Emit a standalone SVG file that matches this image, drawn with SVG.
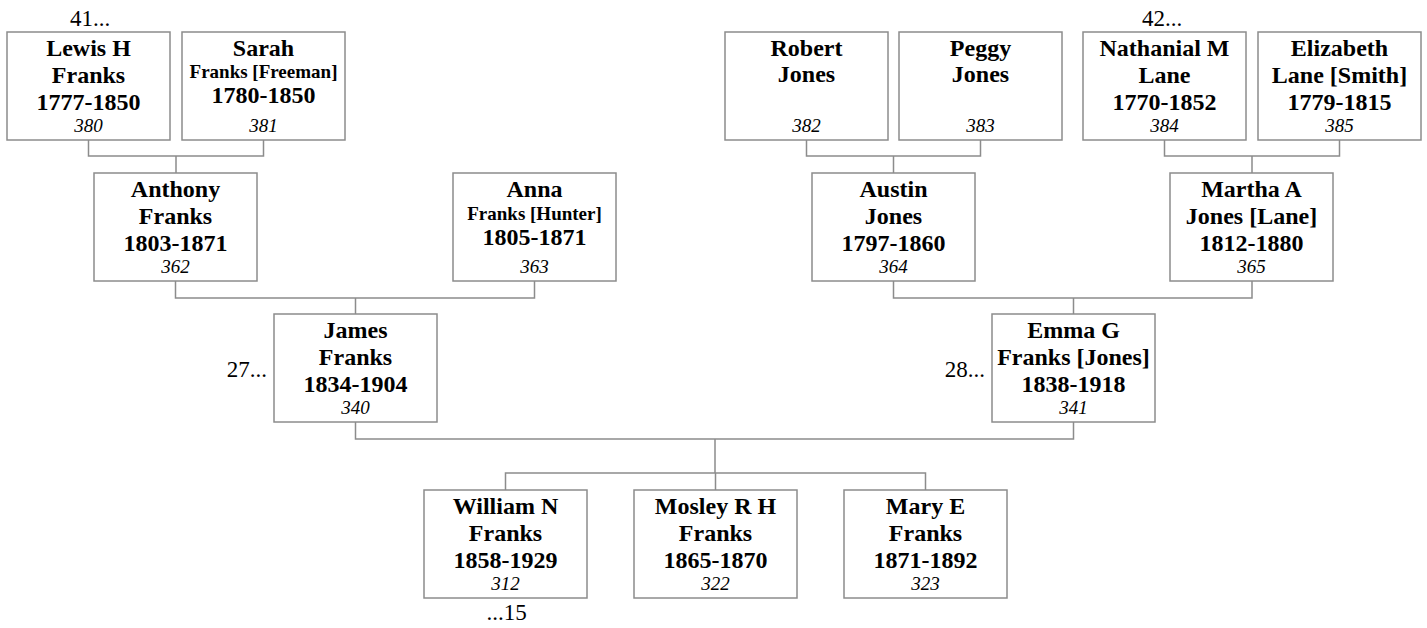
<svg xmlns="http://www.w3.org/2000/svg" width="1427" height="628" viewBox="0 0 1427 628">
<style>
.box{fill:#fff;stroke:#8c8c8c;stroke-width:1.5}
.con{fill:none;stroke:#8c8c8c;stroke-width:1.5}
text{font-family:"Liberation Serif","Times New Roman",serif;fill:#000;text-anchor:middle}
.n{font-weight:bold;font-size:24px}
.s{font-weight:bold;font-size:19px}
.id{font-style:italic;font-size:19px}
.l{font-size:23px}
.r{text-anchor:end}
</style>
<rect width="1427" height="628" fill="#fff"/>
<g id="connectors">
<path class="con" d="M88.5 140V156H263.5V140M176 156V173"/>
<path class="con" d="M806.5 140V156H980.5V140M893.5 156V173"/>
<path class="con" d="M1164.5 140V156H1339.5V140M1252 156V173"/>
<path class="con" d="M175.5 281V298H534.5V281M355.5 298V314"/>
<path class="con" d="M893.5 281V298H1252V281M1073.5 298V314"/>
<path class="con" d="M355.5 422V439H1073.5V422M715 439V473"/>
<path class="con" d="M505.5 490V473H925.5V490M715.5 473V490"/>
</g>
<g id="lewis"><rect class="box" x="7" y="32" width="163" height="108"/>
<text class="n" x="88.5" y="56">Lewis H</text><text class="n" x="88.5" y="83">Franks</text><text class="n" x="88.5" y="110">1777-1850</text><text class="id" x="88.5" y="132">380</text></g>
<g id="sarah"><rect class="box" x="182" y="32" width="163" height="108"/>
<text class="n" x="263.5" y="56">Sarah</text><text class="s" x="263.5" y="78">Franks [Freeman]</text><text class="n" x="263.5" y="103">1780-1850</text><text class="id" x="263.5" y="132">381</text></g>
<g id="robert"><rect class="box" x="725" y="32" width="163" height="108"/>
<text class="n" x="806.5" y="56">Robert</text><text class="n" x="806.5" y="82">Jones</text><text class="id" x="806.5" y="132">382</text></g>
<g id="peggy"><rect class="box" x="899" y="32" width="163" height="108"/>
<text class="n" x="980.5" y="56">Peggy</text><text class="n" x="980.5" y="82">Jones</text><text class="id" x="980.5" y="132">383</text></g>
<g id="nathanial"><rect class="box" x="1083" y="32" width="163" height="108"/>
<text class="n" x="1164.5" y="56">Nathanial M</text><text class="n" x="1164.5" y="83">Lane</text><text class="n" x="1164.5" y="110">1770-1852</text><text class="id" x="1164.5" y="132">384</text></g>
<g id="elizabeth"><rect class="box" x="1258" y="32" width="163" height="108"/>
<text class="n" x="1339.5" y="56">Elizabeth</text><text class="n" x="1339.5" y="83">Lane [Smith]</text><text class="n" x="1339.5" y="110">1779-1815</text><text class="id" x="1339.5" y="132">385</text></g>
<g id="anthony"><rect class="box" x="94" y="173" width="163" height="108"/>
<text class="n" x="175.5" y="197">Anthony</text><text class="n" x="175.5" y="224">Franks</text><text class="n" x="175.5" y="251">1803-1871</text><text class="id" x="175.5" y="273">362</text></g>
<g id="anna"><rect class="box" x="453" y="173" width="163" height="108"/>
<text class="n" x="534.5" y="197">Anna</text><text class="s" x="534.5" y="220">Franks [Hunter]</text><text class="n" x="534.5" y="245">1805-1871</text><text class="id" x="534.5" y="273">363</text></g>
<g id="austin"><rect class="box" x="812" y="173" width="163" height="108"/>
<text class="n" x="893.5" y="197">Austin</text><text class="n" x="893.5" y="224">Jones</text><text class="n" x="893.5" y="251">1797-1860</text><text class="id" x="893.5" y="273">364</text></g>
<g id="martha"><rect class="box" x="1170" y="173" width="163" height="108"/>
<text class="n" x="1251.5" y="197">Martha A</text><text class="n" x="1251.5" y="224">Jones [Lane]</text><text class="n" x="1251.5" y="251">1812-1880</text><text class="id" x="1251.5" y="273">365</text></g>
<g id="james"><rect class="box" x="274" y="314" width="163" height="108"/>
<text class="n" x="355.5" y="338">James</text><text class="n" x="355.5" y="365">Franks</text><text class="n" x="355.5" y="392">1834-1904</text><text class="id" x="355.5" y="414">340</text>
<text class="l r" x="267" y="377">27...</text></g>
<g id="emma"><rect class="box" x="992" y="314" width="163" height="108"/>
<text class="n" x="1073.5" y="338">Emma G</text><text class="n" x="1073.5" y="365">Franks [Jones]</text><text class="n" x="1073.5" y="392">1838-1918</text><text class="id" x="1073.5" y="414">341</text>
<text class="l r" x="985" y="377">28...</text></g>
<g id="william"><rect class="box" x="424" y="490" width="163" height="108"/>
<text class="n" x="505.5" y="514">William N</text><text class="n" x="505.5" y="541">Franks</text><text class="n" x="505.5" y="568">1858-1929</text><text class="id" x="505.5" y="590">312</text>
<text class="l" x="506.5" y="620">...15</text></g>
<g id="mosley"><rect class="box" x="634" y="490" width="163" height="108"/>
<text class="n" x="715.5" y="514">Mosley R H</text><text class="n" x="715.5" y="541">Franks</text><text class="n" x="715.5" y="568">1865-1870</text><text class="id" x="715.5" y="590">322</text></g>
<g id="mary"><rect class="box" x="844" y="490" width="163" height="108"/>
<text class="n" x="925.5" y="514">Mary E</text><text class="n" x="925.5" y="541">Franks</text><text class="n" x="925.5" y="568">1871-1892</text><text class="id" x="925.5" y="590">323</text></g>
<g id="labels">
<text class="l" x="90" y="26">41...</text>
<text class="l" x="1162" y="26">42...</text>
</g>
</svg>
